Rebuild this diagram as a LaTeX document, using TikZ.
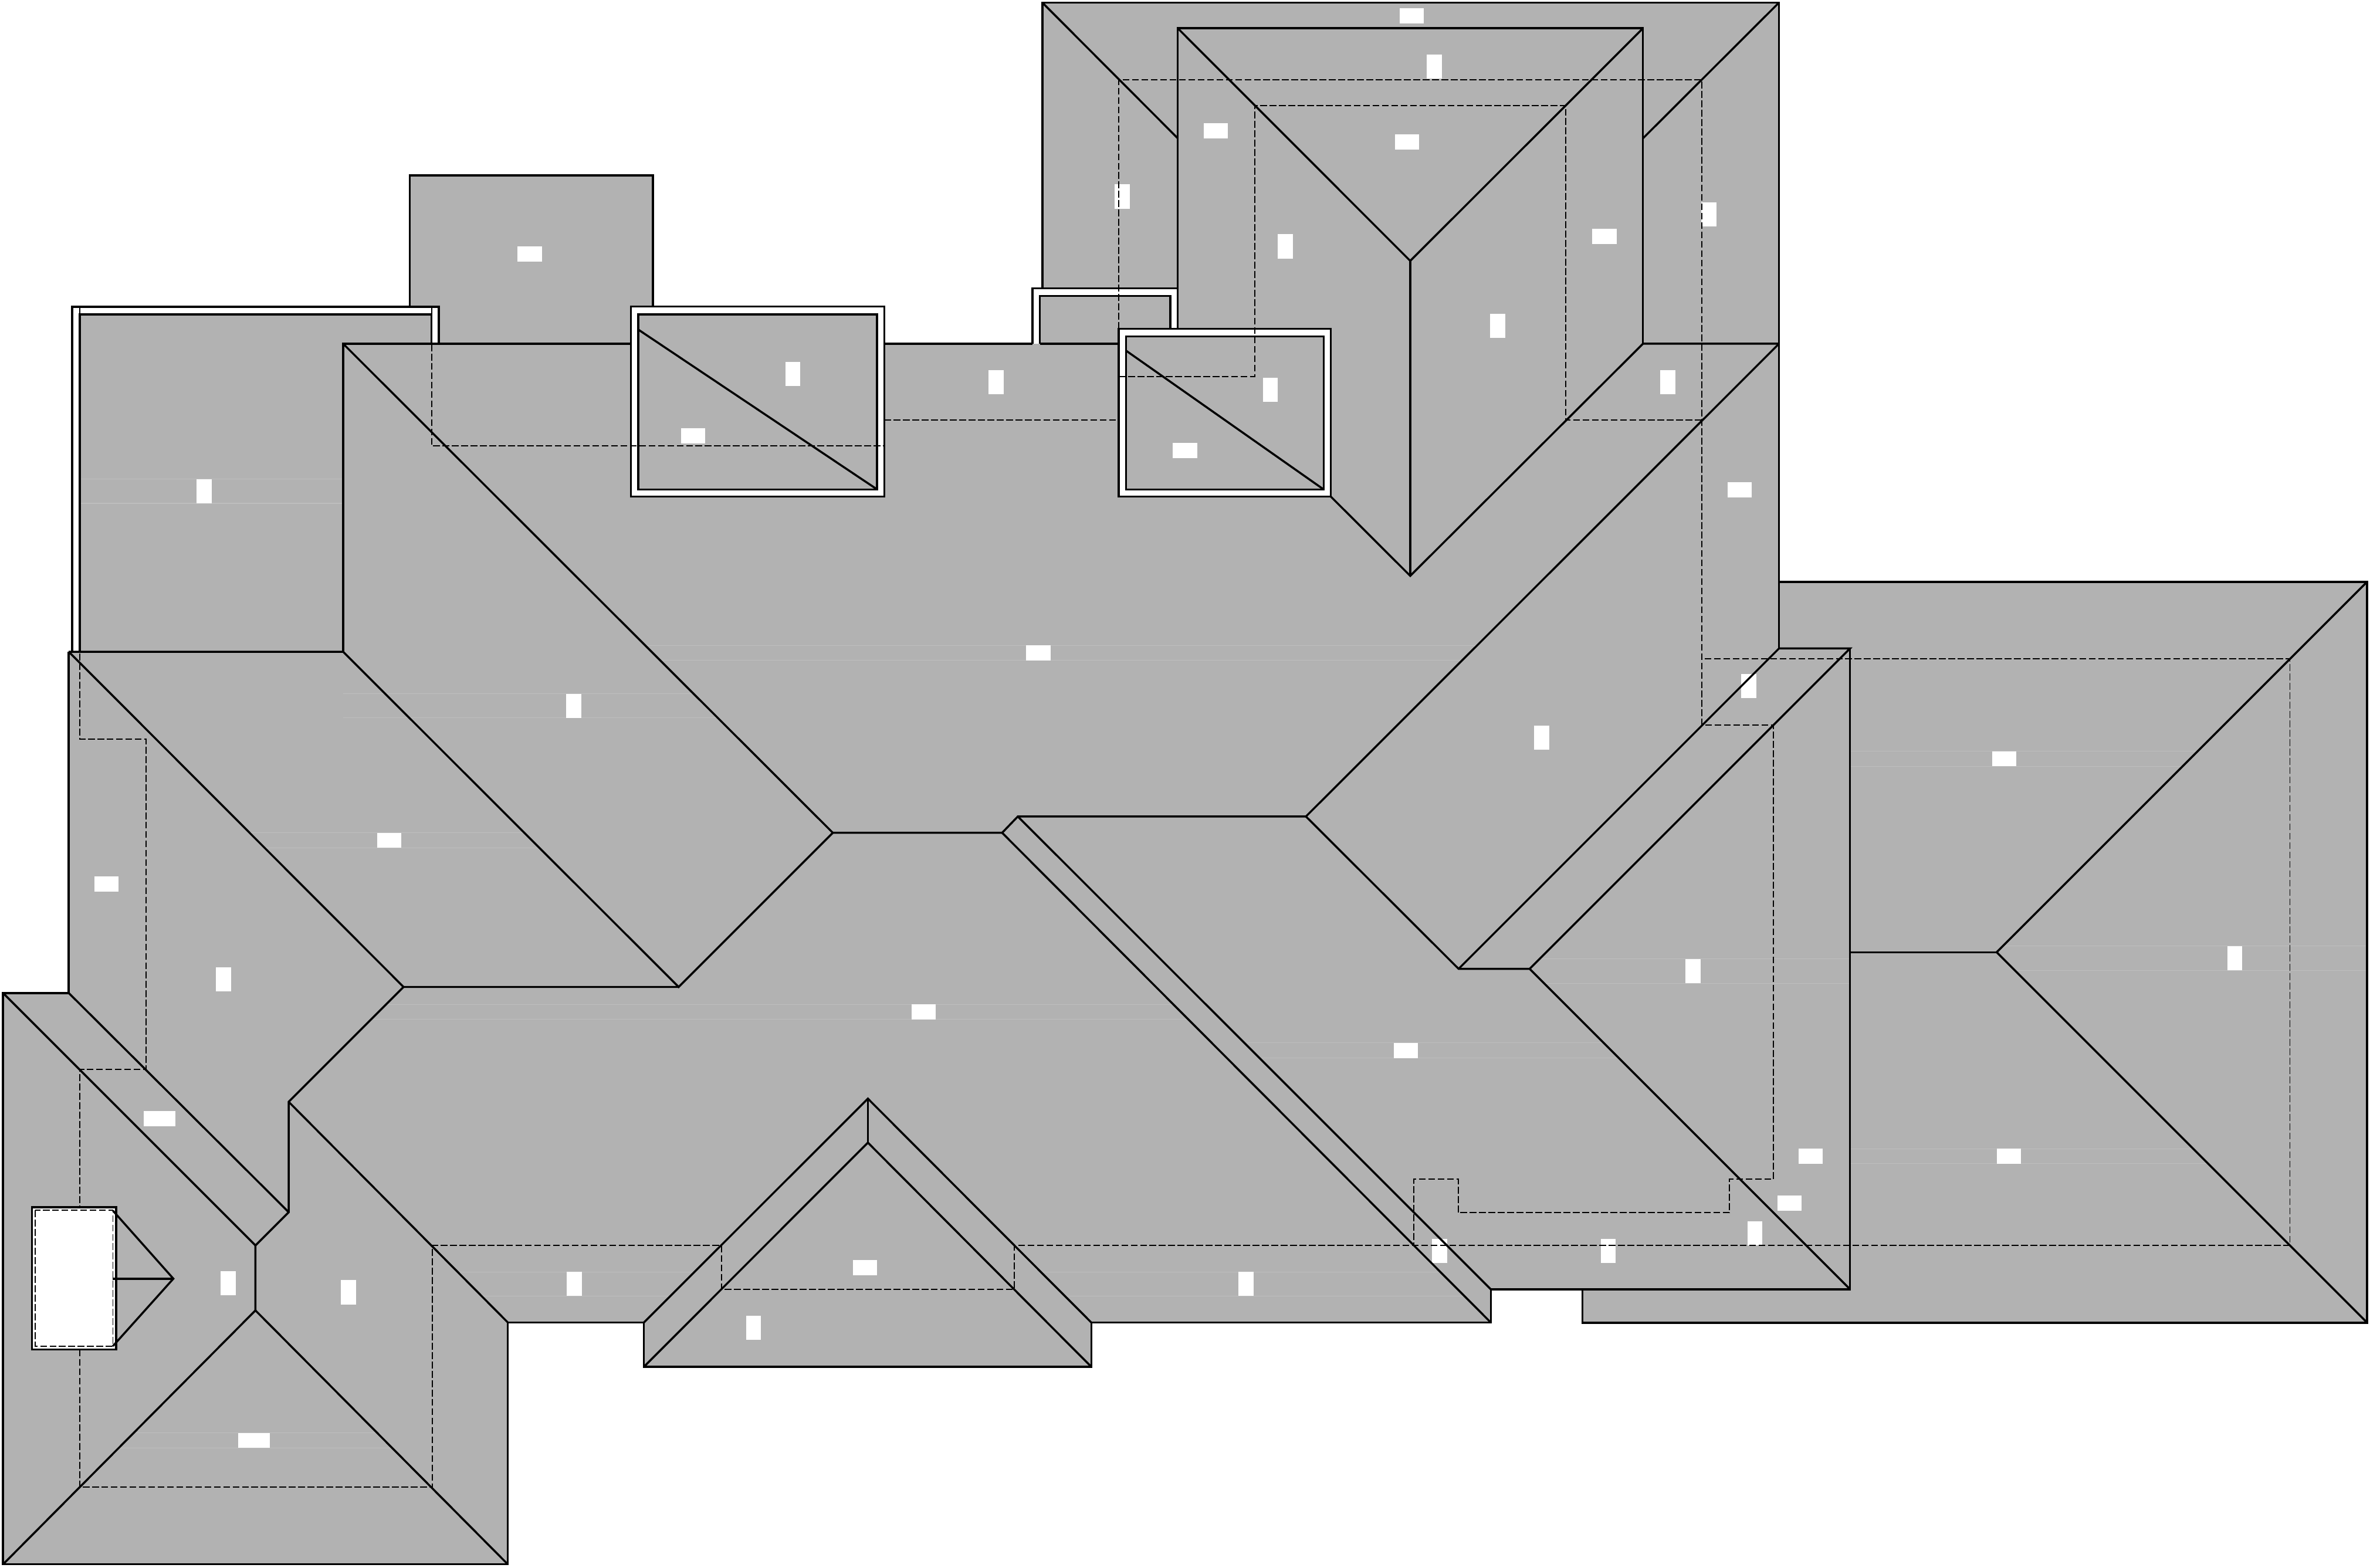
\documentclass[tikz,border=0pt]{standalone}
\usepackage{xcolor}
\definecolor{roofgray}{gray}{0.70}
\usetikzlibrary{calc}
\begin{document}
\begin{tikzpicture}
		[x=1pt,y=-1pt,
		ridge/.style={draw=black,line width=1.35pt,line join=miter,line cap=butt},
		hidden/.style={draw=black,line width=.75pt,dash pattern=on 4.5pt off 1.7pt},
		streak/.style={draw=white,draw opacity=.16,line width=.4pt},
		band/.style={fill=white,even odd rule},
		tagwide/.style={fill=white},
		tagtall/.style={fill=white}]
		\useasboundingbox (0,0) rectangle (1568,1037.07);
		% roof silhouette
		\fill[roofgray] (2,657) -- (45.5,657) -- (45.5,431.2) -- (47.7,431.2) -- (47.7,203) -- (271,203) -- (271,116) -- (432,116) -- (432,203) -- (585,203) -- (585,227.4) -- (683,227.4) -- (683,191) -- (689.6,191) -- (689.6,1.7) -- (1177,1.7) -- (1177,385) -- (1566,385) -- (1566,875) -- (1047,875) -- (1047,853) -- (986.3,853) -- (986.3,875) -- (722,875) -- (722,904.3) -- (426,904.3) -- (426,875) -- (336,875) -- (336,1035) -- (2,1035) -- cycle;
		% faint streaks in the fill
		\foreach \a/\b/\y in {53/227/317,53/227/333,227/459/459,227/475/475,165/347/551,175/357/561,427/977/427,437/967/437,255.5/776.5/664.5,245.5/786.5/674.5,825/1061/690,835/1071/700,1224/1454/497,1224/1444/507,1224/1451/760,1224/1461/770,1325/1566/626,1333/1566/642,88/250/948,78/260/958,1019/1224/634.5,1021/1224/650.5,688/953/841.5,704/969/857.5,303/460/841.5,319/443/857.5}
			\draw[streak] (\a,\y) -- (\b,\y);
		% white bands
		\fill[band] (47.7,431.2) -- (47.7,203) -- (290.4,203) -- (290.4,227.4) -- (285.5,227.4) -- (285.5,208) -- (52.8,208) -- (52.8,431.2) -- cycle;
		\fill[band] (417.5,202.8) rectangle (585,328.6) (422.2,208) rectangle (580.3,323.8);
		\fill[band] (683,227.4) -- (683,190.8) -- (779.2,190.8) -- (779.2,217.6) -- (774.2,217.6) -- (774.2,195.7) -- (688,195.7) -- (688,227.4) -- cycle;
		\fill[band] (740.2,217.6) rectangle (880.5,328.6) (745,222.5) rectangle (875.7,323.8);
		\fill[white] (21.2,798.8) rectangle (76.9,892.9);
		% blanked tags
		\foreach \x/\y in {934/10.5,931/94,804.5/86.5,1061.5/156.5,350.5/168,458.5/288.5,784/298,1151/324,687/432,257.5/556,70.5/585,1326/502,611/669.5,930/695,1198/765,1329/765,1184/796,572.3/838.7}
			\fill[tagwide] (\x-8,\y-5) rectangle (\x+8,\y+5);
		\foreach \x/\y in {105.5/740,168/953}
			\fill[tagwide] (\x-10.5,\y-5) rectangle (\x+10.5,\y+5);
		\foreach \x/\y in {949/44,742.5/130,1130.5/142,850.5/163,991/215.5,524.5/247.5,659/253,840.5/258,1103.5/253,135/325,379.5/467,1157/454,1020/488,148/648,1120/642.5,1478.5/634,1161/816,952.5/827.5,1064/827.5,151/849,380/849.5,824.5/849.5,230.5/855,498.5/878.5}
			\fill[tagtall] (\x-5,\y-8) rectangle (\x+5,\y+8);
		% eaves lines under the roof, dashed
		\draw[hidden] (52.8,203) -- (52.8,489) -- (96.5,489) -- (96.5,707.5) -- (52.8,707.5) -- (52.8,798.8);
		\draw[hidden] (52.8,892.9) -- (52.8,984) -- (286,984) -- (286,824) -- (477.2,824) -- (477.2,853) -- (671,853) -- (671,824) -- (1515,824) -- (1515,436) -- (1126,436);
		\draw[hidden] (285.5,203) -- (285.5,295) -- (585,295);
		\draw[hidden] (585,278) -- (740.2,278);
		\draw[hidden] (740.2,217.6) -- (740.2,52.8) -- (1126,52.8) -- (1126,479.6) -- (1173.3,479.6) -- (1173.3,780.2) -- (1144.3,780.2) -- (1144.3,802.3) -- (964.7,802.3) -- (964.7,780.2) -- (935.5,780.2) -- (935.5,824);
		\draw[hidden] (740.2,249) -- (830,249) -- (830,69.7) -- (1036,69.7) -- (1036,278) -- (1126,278);
		% outline
		\draw[ridge] (45.5,431.2) -- (45.5,657) -- (2,657) -- (2,1035) -- (336,1035) -- (336,875) -- (426,875);
		\draw[ridge] (426,875) -- (426,904.3) -- (722,904.3) -- (722,875) -- (986.3,875) -- (986.3,853) -- (1224,853) -- (1224,429);
		\draw[ridge] (1047,853) -- (1047,875.2) -- (1566,875.2) -- (1566,385) -- (1177,385);
		\draw[ridge] (689.6,191) -- (689.6,1.7) -- (1177,1.7) -- (1177,429);
		\draw[ridge] (271,203) -- (271,116) -- (432,116) -- (432,203);
		% balcony and boxes
		\draw[ridge] (47.7,431.2) -- (47.7,203) -- (290.4,203) -- (290.4,227.4);
		\draw[ridge] (52.8,431.2) -- (52.8,208) -- (285.5,208) -- (285.5,227.4);
		\draw[ridge] (417.5,202.8) rectangle (585,328.6) (422.2,208) rectangle (580.3,323.8);
		\draw[ridge] (422.2,218) -- (580.3,323.8);
		\draw[ridge] (683,227.4) -- (683,190.8) -- (779.2,190.8);
		\draw[ridge] (688,227.4) -- (688,195.7) -- (774.2,195.7) -- (774.2,217.6);
		\draw[ridge] (740.2,217.6) rectangle (880.5,328.6) (745,222.5) rectangle (875.7,323.8);
		\draw[ridge] (745,232) -- (875.7,323.8);
		% tower
		\draw[ridge] (689.6,1.7) -- (779.2,91.5);
		\draw[ridge] (1177,1.7) -- (1087,91.5);
		\draw[ridge] (779.2,217.6) -- (779.2,18.7) -- (1087,18.7) -- (1087,227.4);
		\draw[ridge] (779.2,18.7) -- (933,172.6) -- (1087,18.7);
		\draw[ridge] (933,172.6) -- (933,381);
		\draw[ridge] (880.5,328.6) -- (933,381) -- (1087,227.4) -- (1177,227.4);
		% main hips and valleys
		\draw[ridge] (45.5,431.2) -- (227,431.2) -- (449,653) -- (551,551) -- (663,551) -- (673.4,540.2) -- (864,540.2) -- (1177,227.4);
		\draw[ridge] (417.5,227.4) -- (227,227.4) -- (227,431.2);
		\draw[ridge] (585,227.4) -- (683,227.4);
		\draw[ridge] (688,227.4) -- (740.2,227.4);
		\draw[ridge] (227,227.4) -- (551,551);
		\draw[ridge] (864,540.2) -- (965,641) -- (1012,641) -- (1224,853);
		\draw[ridge] (965,641) -- (1177,429) -- (1224,429) -- (1012,641);
		\draw[ridge] (673.4,540.2) -- (986.3,853);
		\draw[ridge] (663,551) -- (986.3,875);
		\draw[ridge] (45.5,431.2) -- (267,653) -- (449,653);
		\draw[ridge] (267,653) -- (191,729) -- (191,802) -- (169,824) -- (169,867);
		\draw[ridge] (191,729) -- (336,875);
		\draw[ridge] (45.5,657) -- (191,802);
		\draw[ridge] (2,657) -- (169,824);
		\draw[ridge] (2,1035) -- (169,867) -- (336,1035);
		\draw[ridge] (1224,630) -- (1321,630);
		\draw[ridge] (1566,385) -- (1321,630) -- (1566,875);
		% small gable
		\draw[ridge] (426,875) -- (574.2,726.9) -- (722,875);
		\draw[ridge] (574.2,726.9) -- (574.2,756);
		\draw[ridge] (426,904.3) -- (574.2,756) -- (722,904.3);
		% dormer
		\draw[ridge] (21.2,798.8) rectangle (76.9,892.9);
		\draw[hidden] (23.4,800.8) rectangle (74.7,890.6);
		\draw[ridge] (74.7,801) -- (114.7,846) -- (74.7,890.6);
		\draw[ridge] (74.7,846) -- (114.7,846);
	\end{tikzpicture}
\end{document}
